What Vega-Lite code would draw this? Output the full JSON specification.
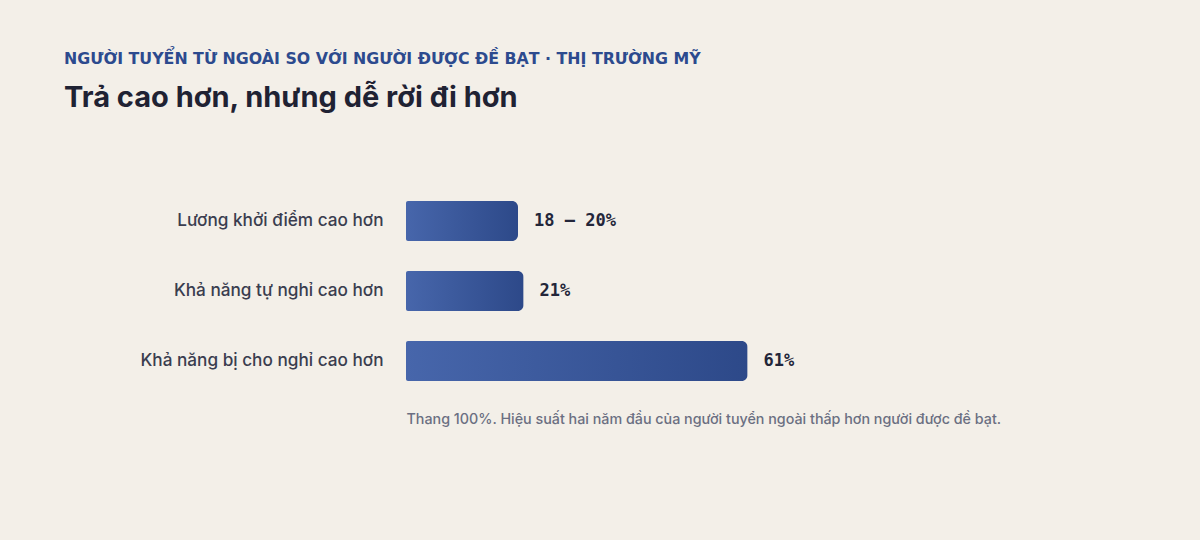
{
  "$schema": "https://vega.github.io/schema/vega-lite/v6.json",
  "width": 560,
  "height": 210,
  "autosize": "none",
  "padding": {"left": 406, "top": 186, "right": 234, "bottom": 144},
  "background": "#f3efe8",
  "config": {
    "view": {"stroke": null},
    "font": "Inter"
  },
  "title": {
    "text": "NGƯỜI TUYỂN TỪ NGOÀI SO VỚI NGƯỜI ĐƯỢC ĐỀ BẠT · THỊ TRƯỜNG MỸ",
    "subtitle": "Trả cao hơn, nhưng dễ rời đi hơn",
    "anchor": "start",
    "frame": "group",
    "dx": -342,
    "offset": 72,
    "font": "DejaVu Sans",
    "fontSize": 15.8,
    "fontWeight": 700,
    "color": "#2c4a8e",
    "subtitleFont": "Inter",
    "subtitleFontSize": 29,
    "subtitleFontWeight": 700,
    "subtitleColor": "#1f2233",
    "subtitlePadding": 16
  },
  "data": {
    "values": [
      {"item": "Lương khởi điểm cao hơn", "value": 20, "low": 18, "label": "18 – 20%"},
      {"item": "Khả năng tự nghỉ cao hơn", "value": 21, "label": "21%"},
      {"item": "Khả năng bị cho nghỉ cao hơn", "value": 61, "label": "61%"}
    ]
  },
  "encoding": {
    "y": {
      "field": "item",
      "type": "nominal",
      "sort": null,
      "scale": {"paddingInner": 0.4286, "paddingOuter": 0.2143},
      "axis": {
        "title": null,
        "domain": false,
        "ticks": false,
        "labelPadding": 23,
        "labelLimit": 400,
        "labelFont": "Inter",
        "labelFontSize": 17.2,
        "labelFontWeight": 500,
        "labelColor": "#3a3d4f"
      }
    },
    "x": {
      "field": "value",
      "type": "quantitative",
      "scale": {"domain": [0, 100], "nice": false},
      "axis": {
        "title": "Thang 100%. Hiệu suất hai năm đầu của người tuyển ngoài thấp hơn người được đề bạt.",
        "titleAnchor": "start",
        "titleFont": "Inter",
        "titleFontSize": 14.3,
        "titleFontWeight": 500,
        "titleColor": "#6b6f82",
        "titlePadding": 16,
        "titleLimit": 800,
        "domain": false,
        "ticks": false,
        "labels": false,
        "grid": false
      }
    }
  },
  "layer": [
    {
      "mark": {
        "type": "bar",
        "cornerRadiusTopRight": 6,
        "cornerRadiusBottomRight": 6,
        "cornerRadiusTopLeft": 2,
        "cornerRadiusBottomLeft": 2,
        "color": {
          "gradient": "linear",
          "x1": 0, "x2": 1, "y1": 0, "y2": 0,
          "stops": [
            {"offset": 0, "color": "#4766ab"},
            {"offset": 1, "color": "#2d4989"}
          ]
        }
      }
    },
    {
      "mark": {
        "type": "text",
        "align": "left",
        "baseline": "middle",
        "dx": 16,
        "font": "DejaVu Sans Mono",
        "fontSize": 17,
        "fontWeight": 700,
        "color": "#23263a"
      },
      "encoding": {"text": {"field": "label"}}
    }
  ]
}
